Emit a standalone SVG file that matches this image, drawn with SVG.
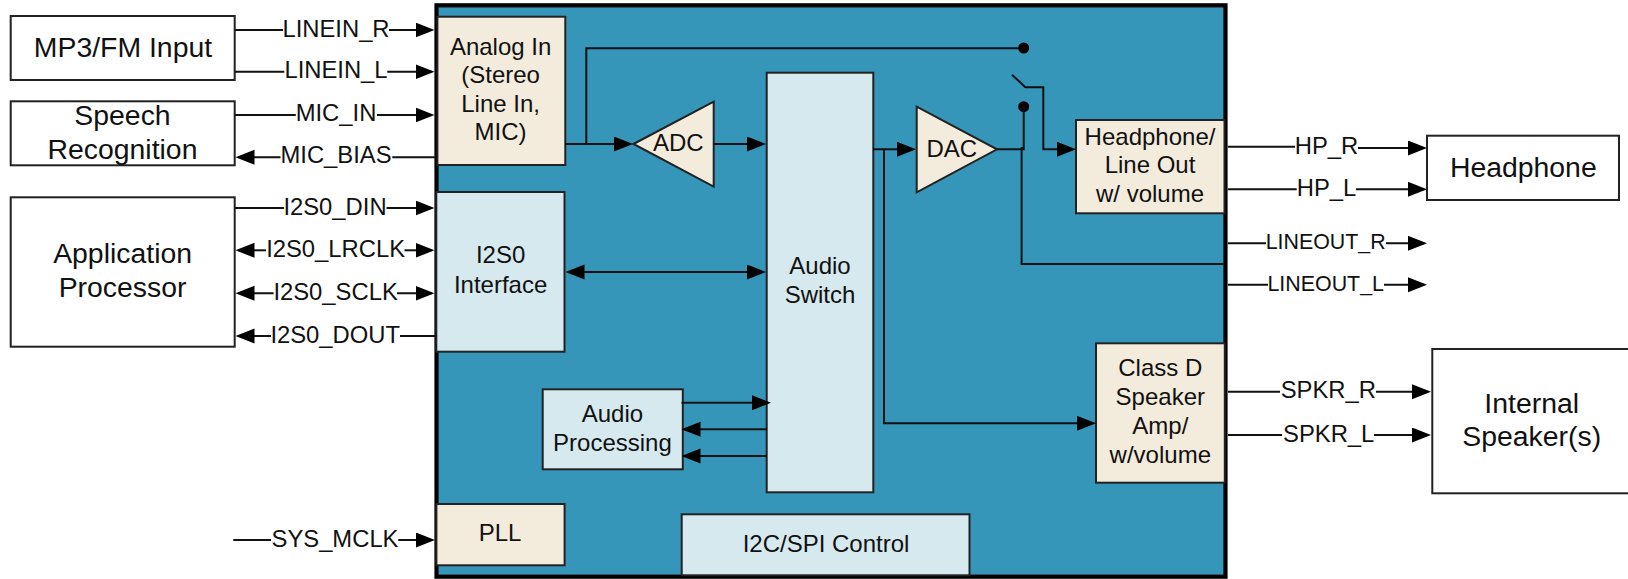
<svg xmlns="http://www.w3.org/2000/svg" width="1628" height="579" viewBox="0 0 1628 579">
<style>
text{font-family:"Liberation Sans",Arial,sans-serif;fill:#111;text-anchor:middle}
.big{font-size:28.4px}
.mid{font-size:24px}
.sig{font-size:23.8px}
.lo{font-size:21.4px}
.ext{fill:#fff;stroke:#222;stroke-width:2}
.beige{fill:#f3ebdb;stroke:#222;stroke-width:2}
.light{fill:#d6e9ee;stroke:#222;stroke-width:2}
.c{fill:none;stroke:#111;stroke-width:2}
.a{marker-end:url(#ah)}
.s{marker-start:url(#ah)}
.d{fill:#000}
</style>
<defs>
<marker id="ah" markerUnits="userSpaceOnUse" markerWidth="20" markerHeight="16" refX="16" refY="7.5" orient="auto-start-reverse"><path d="M0,0L19,7.5L0,15z" fill="#000"/></marker>
</defs>
<rect id="chip" x="436.5" y="5.3" width="789" height="571.4" fill="#3596ba" stroke="#000" stroke-width="4.2"/>
<g id="mp3"><rect class="ext" x="10.7" y="16" width="224" height="64"/><text class="big" x="123" y="56.7">MP3/FM Input</text></g>
<g id="speech"><rect class="ext" x="10.7" y="101.3" width="224" height="64"/><text class="big" x="122.5" y="124.5">Speech</text><text class="big" x="122.5" y="158.5">Recognition</text></g>
<g id="app"><rect class="ext" x="10.7" y="197.3" width="224" height="149.4"/><text class="big" x="122.6" y="263">Application</text><text class="big" x="122.6" y="296.7">Processor</text></g>
<g id="headphone"><rect class="ext" x="1427" y="135.7" width="192" height="64.3"/><text class="big" x="1523.3" y="176.7">Headphone</text></g>
<g id="speaker"><rect class="ext" x="1432.3" y="349" width="200" height="144.3"/><text class="big" x="1531.7" y="412.7">Internal</text><text class="big" x="1531.7" y="446">Speaker(s)</text></g>
<g id="analog"><rect class="beige" x="437.4" y="16.7" width="127.9" height="148.3"/><text class="mid" x="500.6" y="55">Analog In</text><text class="mid" x="500.6" y="83.3">(Stereo</text><text class="mid" x="500.6" y="111.7">Line In,</text><text class="mid" x="500.6" y="140">MIC)</text></g>
<g id="i2s0"><rect class="light" x="436.3" y="192" width="128.2" height="159.7"/><text class="mid" x="500.6" y="263.3">I2S0</text><text class="mid" x="500.6" y="292.7">Interface</text></g>
<g id="adc"><path class="beige" d="M633.5,144L713.7,101.7V186.7Z"/><text class="mid" x="678.3" y="150.7">ADC</text></g>
<g id="dac"><path class="beige" d="M916.7,106.7V192.3L997,149.3Z"/><text class="mid" x="951.8" y="156.7">DAC</text></g>
<g id="switch"><rect class="light" x="766.7" y="72.7" width="106.6" height="419.6"/><text class="mid" x="820" y="274">Audio</text><text class="mid" x="820" y="303.3">Switch</text></g>
<g id="hpout"><rect class="beige" x="1076" y="120" width="148.5" height="93.3"/><text class="mid" x="1150" y="145">Headphone/</text><text class="mid" x="1150" y="173.3">Line Out</text><text class="mid" x="1150" y="201.7">w/ volume</text></g>
<g id="classd"><rect class="beige" x="1096" y="343.3" width="128.8" height="139.4"/><text class="mid" x="1160.3" y="376">Class D</text><text class="mid" x="1160.3" y="405">Speaker</text><text class="mid" x="1160.3" y="434.3">Amp/</text><text class="mid" x="1160.3" y="462.7">w/volume</text></g>
<g id="proc"><rect class="light" x="542.7" y="389.3" width="140.1" height="80"/><text class="mid" x="612.4" y="422.3">Audio</text><text class="mid" x="612.4" y="450.7">Processing</text></g>
<g id="pll"><rect class="beige" x="436.4" y="504" width="128.2" height="61.3"/><text class="mid" x="500" y="540.7">PLL</text></g>
<g id="ctrl"><rect class="light" x="681.7" y="514.3" width="287.8" height="61"/><text class="mid" x="826" y="552">I2C/SPI Control</text></g>
<g id="connectors">
<path class="c a" d="M235,30H283M389,30H431.5"/><text class="sig" x="336" y="36.7">LINEIN_R</text>
<path class="c a" d="M235,71.7H284.3M387.3,71.7H431.5"/><text class="sig" x="336" y="78.3">LINEIN_L</text>
<path class="c a" d="M235,115H295.8M377,115H431.5"/><text class="sig" x="336" y="120.7">MIC_IN</text>
<path class="c s" d="M238.5,157.3H280.5M392.3,157.3H436"/><text class="sig" x="336" y="163.3">MIC_BIAS</text>
<path class="c a" d="M235,208H284M386.5,208H431.5"/><text class="sig" x="335" y="215">I2S0_DIN</text>
<path class="c s" d="M238.5,250.3H266"/><path class="c a" d="M404.5,250.3H431.5"/><text class="sig" x="335.6" y="257.3">I2S0_LRCLK</text>
<path class="c s" d="M238.5,293.3H273.6"/><path class="c a" d="M396.9,293.3H431.5"/><text class="sig" x="335.6" y="300">I2S0_SCLK</text>
<path class="c s" d="M238.5,336H271M400,336H436"/><text class="sig" x="335.2" y="342.7">I2S0_DOUT</text>
<path class="c a" d="M233.3,540H271M398.3,540H432"/><text class="sig" x="335" y="546.7">SYS_MCLK</text>
<path class="c a" d="M565,144H630"/>
<path class="c" d="M586.3,144V48.3H1023"/><circle class="d" cx="1023.7" cy="48" r="5.5"/><circle class="d" cx="1023.7" cy="106.7" r="5.5"/>
<path class="c a" d="M713.7,144H763"/>
<path class="c a s" d="M568.5,272H763"/>
<path class="c a" d="M873.3,149.3H913"/>
<path class="c a" d="M884,149.3V423.3H1093"/>
<path class="c" d="M997,149.3H1023.7V106.7M1021.6,147V264H1224"/>
<path class="c a" d="M1012,74.7L1025.3,87.3H1043.3V149.3H1073"/>
<path class="c a" d="M681.5,402.7H768"/>
<path class="c a" d="M766.7,429.3H684.5"/>
<path class="c a" d="M766.7,456H684.5"/>
<path class="c a" d="M1228,146.7H1295M1358,148H1424"/><text class="sig" x="1326.5" y="154">HP_R</text>
<path class="c a" d="M1228,189.3H1296.7M1356,189.3H1424"/><text class="sig" x="1326.5" y="196">HP_L</text>
<path class="c a" d="M1228,243.3H1266M1386,243.3H1424"/><text class="lo" x="1325.7" y="249.3">LINEOUT_R</text>
<path class="c a" d="M1228,284.7H1268M1384,284.7H1424"/><text class="lo" x="1325.7" y="291">LINEOUT_L</text>
<path class="c a" d="M1228,391.7H1280M1376,391.7H1428"/><text class="sig" x="1328.3" y="398.3">SPKR_R</text>
<path class="c a" d="M1228,435H1282M1374,435H1428"/><text class="sig" x="1328.7" y="441.7">SPKR_L</text>
</g>
</svg>
